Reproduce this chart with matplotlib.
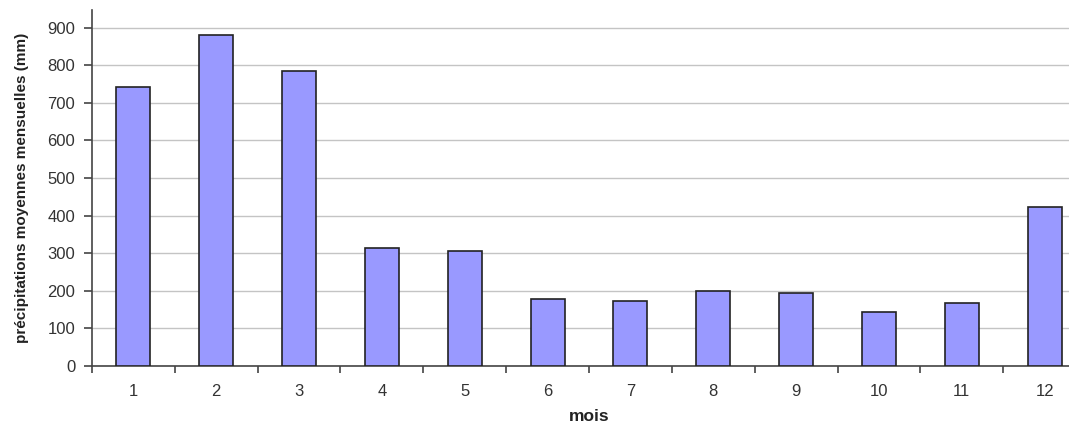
import numpy as np
import matplotlib.pyplot as plt

plt.rcParams['font.family'] = ['Liberation Sans', 'DejaVu Sans']

# précipitations moyennes mensuelles (mm)
mois = list(range(1, 13))
precip = [743, 881, 786, 314, 307, 178, 173, 200, 194, 143, 168, 424]

fig = plt.figure(figsize=(10.69, 4.23), dpi=100)
ax = fig.add_axes([0.086, 0.135, 0.93, 0.842])

x = np.arange(len(mois))
ax.bar(x, precip, width=0.41, color='#9999ff', edgecolor='#222222', linewidth=1.2, zorder=3)

ax.set_xlim(-0.5, len(mois) - 0.5)
ax.set_ylim(0, 948)
ax.set_yticks(np.arange(0, 1000, 100))
ax.set_xticks(x)
ax.set_xticklabels([str(m) for m in mois])
ax.set_xticks(np.arange(-0.5, len(mois), 1), minor=True)
ax.tick_params(axis='x', which='major', length=0, pad=13, labelsize=12, colors='#333333')
ax.tick_params(axis='x', which='minor', length=5, width=1.2, direction='out', color='#444444')
ax.tick_params(axis='y', length=6, width=1.2, pad=6, labelsize=12, colors='#333333')
ax.tick_params(axis='y', color='#444444')

ax.grid(axis='y', color='#c4c4c4', linewidth=1, zorder=0)
for s in ['top', 'right']:
    ax.spines[s].set_visible(False)
for s in ['left', 'bottom']:
    ax.spines[s].set_color('#444444')
    ax.spines[s].set_linewidth(1.2)

ax.set_xlabel('mois', fontweight='bold', fontsize=12.5, labelpad=7, color='#222222')
ax.set_ylabel('précipitations moyennes mensuelles (mm)', fontweight='bold', fontsize=11,
              labelpad=13, color='#222222')

fig.savefig('out.png', dpi=100)
